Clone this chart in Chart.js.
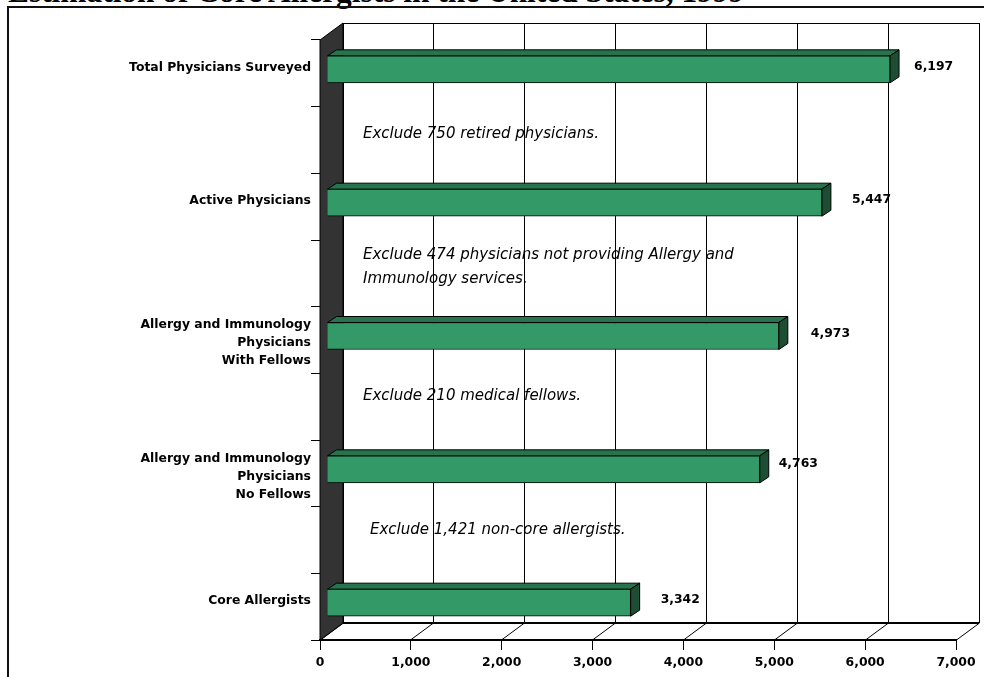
<!DOCTYPE html>
<html>
<head>
<meta charset="utf-8">
<title>Estimation of Core Allergists</title>
<script src="https://cdn.jsdelivr.net/npm/chart.js@4"></script>
<style>
  html, body { margin: 0; padding: 0; background: #fff; overflow: hidden; }
  #wrap { position: relative; width: 984px; height: 677px; overflow: hidden; }
  #title { position: absolute; left: 8px; top: -26px; font: bold 31.4px "Liberation Serif", serif; color: #000; white-space: nowrap; }
  #frame { position: absolute; left: 7px; top: 6px; width: 990px; height: 690px; border: 2px solid #111; box-sizing: border-box; }
  canvas { position: absolute; left: 0; top: 0; }
</style>
</head>
<body>
<div id="wrap">
  <div id="title">Estimation of Core Allergists in the United States, 1999</div>
  <div id="frame"></div>
  <canvas id="myChart" width="984" height="677"></canvas>
</div>
<script>
const categories = [
  ['Total Physicians Surveyed', ''],
  '',
  ['Active Physicians', ''],
  '',
  ['Allergy and Immunology', 'Physicians', 'With Fellows'],
  '',
  ['Allergy and Immunology', 'Physicians', 'No Fellows'],
  '',
  ['Core Allergists', '']
];
const physicians = [6197, null, 5447, null, 4973, null, 4763, null, 3342];
const valueTicks = [0, 1000, 2000, 3000, 4000, 5000, 6000, 7000];
const notes = [
  ['Exclude 750 retired physicians.'],
  ['Exclude 474 physicians not providing Allergy and', 'Immunology services.'],
  ['Exclude 210 medical fellows.'],
  ['Exclude 1,421 non-core allergists.']
];
const noteRows = [1, 3, 5, 7];

const ctx = document.getElementById('myChart');

// depth of the back wall and of the bars, in px
const WALL_X = 23, WALL_Y = 17;
const BAR_X = 9, BAR_Y = 6;
const SHIFT_X = 7, SHIFT_Y = -4;

// the value labels and notes were moved by hand in the original
const labelNudge = { 0: [24, -3], 2: [30, -3], 4: [32, -2], 6: [19, -6], 8: [30, -3] };
const noteNudge = [[43, -6], [43, -6], [43, -11], [50, -10]];

const axisFont = { family: 'DejaVu Sans', size: 12.4, weight: 'bold', lineHeight: 1.45 };

function line(c, x1, y1, x2, y2) {
  c.beginPath();
  c.moveTo(x1, y1);
  c.lineTo(x2, y2);
  c.stroke();
}

function poly(c, pts, fill) {
  c.beginPath();
  c.moveTo(pts[0][0], pts[0][1]);
  for (var i = 1; i < pts.length; i++) c.lineTo(pts[i][0], pts[i][1]);
  c.closePath();
  c.fillStyle = fill;
  c.fill();
  c.stroke();
}

const box3d = {
  id: 'box3d',
  beforeDatasetsDraw(chart) {
    const c = chart.ctx, a = chart.chartArea, x = chart.scales.x;
    c.save();
    c.strokeStyle = '#000';
    c.lineWidth = 1;
    // back wall and floor lines
    valueTicks.forEach(v => {
      const px = Math.floor(x.getPixelForValue(v)) + 0.5;
      line(c, px, a.bottom, px + WALL_X, a.bottom - WALL_Y);
      line(c, px + WALL_X, a.bottom - WALL_Y, px + WALL_X, a.top - WALL_Y);
    });
    line(c, a.left + WALL_X, a.top - WALL_Y + 0.5, a.right + WALL_X, a.top - WALL_Y + 0.5);
    c.lineWidth = 2;
    line(c, a.left + WALL_X, a.bottom - WALL_Y, a.right + WALL_X, a.bottom - WALL_Y);
    c.lineWidth = 1;
    // dark side wall
    poly(c, [
      [a.left, a.top], [a.left + WALL_X, a.top - WALL_Y],
      [a.left + WALL_X, a.bottom - WALL_Y], [a.left, a.bottom]
    ], '#333333');
    // bar tops and ends
    c.translate(SHIFT_X, SHIFT_Y);
    chart.getDatasetMeta(0).data.forEach((bar, i) => {
      if (physicians[i] === null) return;
      const top = bar.y - bar.height / 2, bottom = bar.y + bar.height / 2;
      poly(c, [
        [bar.base, top], [bar.base + BAR_X, top - BAR_Y],
        [bar.x + BAR_X, top - BAR_Y], [bar.x, top]
      ], '#26734D');
      poly(c, [
        [bar.x, top], [bar.x + BAR_X, top - BAR_Y],
        [bar.x + BAR_X, bottom - BAR_Y], [bar.x, bottom]
      ], '#1D4D33');
    });
    c.restore();
    // the bars themselves are moved with the same offset
    c.save();
    c.translate(SHIFT_X, SHIFT_Y);
  },
  afterDatasetsDraw(chart) {
    const c = chart.ctx, y = chart.scales.y;
    c.restore();
    c.save();
    c.fillStyle = '#000';
    c.textBaseline = 'middle';
    c.textAlign = 'left';
    c.font = 'bold 12.4px "DejaVu Sans"';
    chart.getDatasetMeta(0).data.forEach((bar, i) => {
      if (physicians[i] === null) return;
      const n = labelNudge[i];
      c.fillText(physicians[i].toLocaleString('en-US'), bar.x + SHIFT_X + n[0], bar.y + SHIFT_Y + n[1]);
    });
    c.font = 'oblique 15px "DejaVu Sans"';
    notes.forEach((rows, k) => {
      const cy = y.getPixelForValue(noteRows[k]) + noteNudge[k][1];
      rows.forEach((txt, j) => {
        c.fillText(txt, chart.chartArea.left + noteNudge[k][0], cy + (j - (rows.length - 1) / 2) * 24);
      });
    });
    c.restore();
  }
};

new Chart(ctx, {
  type: 'bar',
  data: {
    labels: categories,
    datasets: [{
      data: physicians,
      backgroundColor: '#339966',
      borderColor: '#000',
      borderWidth: 1,
      barThickness: 27
    }]
  },
  options: {
    indexAxis: 'y',
    responsive: false,
    animation: false,
    clip: false,
    layout: { padding: { top: 40, right: 28, left: 0, bottom: 0 } },
    plugins: { legend: { display: false }, tooltip: { enabled: false } },
    scales: {
      x: {
        min: 0,
        max: 7000,
        afterBuildTicks(scale) { scale.ticks = valueTicks.map(v => ({ value: v })); },
        afterFit(scale) { scale.height = 37; },
        grid: { drawOnChartArea: false, tickLength: 10, color: '#000' },
        border: { color: '#000', width: 2 },
        ticks: {
          color: '#000',
          font: axisFont,
          maxRotation: 0,
          padding: 4,
          callback: v => v.toLocaleString('en-US')
        }
      },
      y: {
        afterFit(scale) { scale.width = 320; },
        grid: { drawOnChartArea: false, offset: true, tickLength: 9, color: '#000' },
        border: { color: '#000' },
        ticks: {
          color: '#000',
          font: axisFont,
          autoSkip: false,
          padding: 0,
          labelOffset: 3
        }
      }
    }
  },
  plugins: [box3d]
});
</script>
</body>
</html>
